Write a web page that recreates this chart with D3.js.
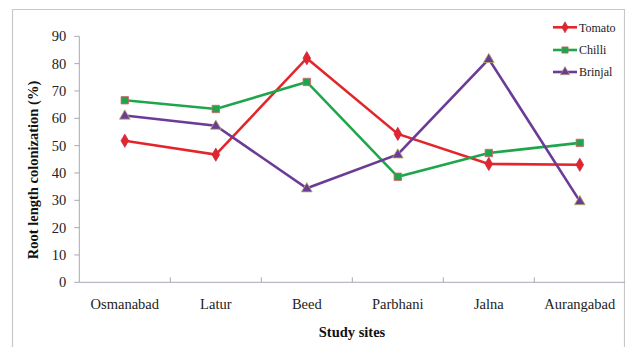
<!DOCTYPE html>
<html><head><meta charset="utf-8">
<script src="https://cdn.jsdelivr.net/npm/d3@7/dist/d3.min.js"></script>
<style>
html,body{margin:0;padding:0;background:#fff;}
svg{display:block;}
</style></head>
<body><svg id="c" width="625" height="347" font-family="'Liberation Serif', 'Times New Roman', Times, 'DejaVu Serif', serif"></svg>
<script>
const categories = ["Osmanabad","Latur","Beed","Parbhani","Jalna","Aurangabad"];
const tomato = [51.8, 46.7, 82.0, 54.3, 43.3, 43.0];
const chilli = [66.6, 63.4, 73.3, 38.6, 47.3, 51.0];
const brinjal = [61.0, 57.3, 34.4, 46.8, 81.7, 29.7];
const yTicks = [0,10,20,30,40,50,60,70,80,90];
const seriesNames = ["Tomato","Chilli","Brinjal"];

const series = [
  {name: seriesNames[0], values: tomato, color: "#e3262b", stroke: "#c02a4a", shape: d3.symbolDiamond},
  {name: seriesNames[1], values: chilli, color: "#1fa64a", stroke: "#d5606a", shape: d3.symbolSquare},
  {name: seriesNames[2], values: brinjal, color: "#6b3b97", stroke: "#b5b560", shape: d3.symbolTriangle}
];

const svg = d3.select("#c");
svg.append("path").attr("d","M12.5,347 V9.5 H624.5 V347")
  .attr("fill","none").attr("stroke","#c8c8c8").attr("stroke-width",1.2);

const x0 = 79.3, x1 = 625.3;
const x = d3.scaleBand().domain(categories).range([x0, x1]).padding(0);
const y = d3.scaleLinear().domain([0,90]).range([282.3, 36.3]);

const g = svg.append("g");
g.append("line").attr("x1",x0).attr("x2",x0).attr("y1",y(0)).attr("y2",y(90))
  .attr("stroke","#a8a8b4").attr("stroke-width",1);
yTicks.forEach(t=>{
  g.append("line").attr("x1",x0-5).attr("x2",x0).attr("y1",y(t)).attr("y2",y(t))
    .attr("stroke","#a8a8b4");
  g.append("text").attr("x",x0-13).attr("y",y(t)).attr("dy","0.35em")
    .attr("text-anchor","end").attr("font-size","14.5px").attr("fill","#222").text(t);
});
g.append("line").attr("x1",x0).attr("x2",x1).attr("y1",y(0)).attr("y2",y(0))
  .attr("stroke","#a8a8b4");
categories.forEach((c,i)=>{
  const xs = x(c);
  if(i>0) g.append("line").attr("x1",xs).attr("x2",xs).attr("y1",y(0)).attr("y2",y(0)-5)
    .attr("stroke","#a8a8b4");
  g.append("text").attr("x",xs+x.bandwidth()/2).attr("y",309)
    .attr("text-anchor","middle").attr("font-size","14.5px").attr("fill","#222").text(c);
});

svg.append("text").attr("x",352).attr("y",337).attr("text-anchor","middle")
  .attr("font-size","14.5px").attr("font-weight","bold").attr("fill","#111").text("Study sites");
svg.append("text").attr("transform","translate(38,170) rotate(-90)").attr("text-anchor","middle")
  .attr("font-size","14.5px").attr("font-weight","bold").attr("fill","#111").text("Root length colonization (%)");

const cx = c => x(c) + x.bandwidth()/2;
const line = d3.line().x((d,i)=>cx(categories[i])).y(d=>y(d));

series.forEach(s=>{
  svg.append("path").attr("d", line(s.values)).attr("fill","none")
    .attr("stroke", s.color).attr("stroke-width",2.6);
});
series.forEach(s=>{
  const size = s.shape===d3.symbolSquare ? 55 : 50;
  s.values.forEach((v,i)=>{
    svg.append("path").attr("d", d3.symbol().type(s.shape).size(size)())
      .attr("transform",`translate(${cx(categories[i])},${y(v) + (s.shape===d3.symbolTriangle?0.5:0)})`)
      .attr("fill", s.color).attr("stroke", s.stroke).attr("stroke-width",0.8);
  });
});

const ly = [27.3, 50, 72];
series.forEach((s,i)=>{
  svg.append("line").attr("x1",553).attr("x2",577).attr("y1",ly[i]).attr("y2",ly[i])
    .attr("stroke", s.color).attr("stroke-width",2.6);
  svg.append("path").attr("d", d3.symbol().type(s.shape).size(s.shape===d3.symbolDiamond?35:40)())
    .attr("transform",`translate(565,${ly[i]})`)
    .attr("fill", s.color).attr("stroke", s.stroke).attr("stroke-width",0.6);
  svg.append("text").attr("x",579).attr("y",ly[i]).attr("dy","0.35em")
    .attr("font-size","12px").attr("fill","#222").text(s.name);
});
</script></body></html>
